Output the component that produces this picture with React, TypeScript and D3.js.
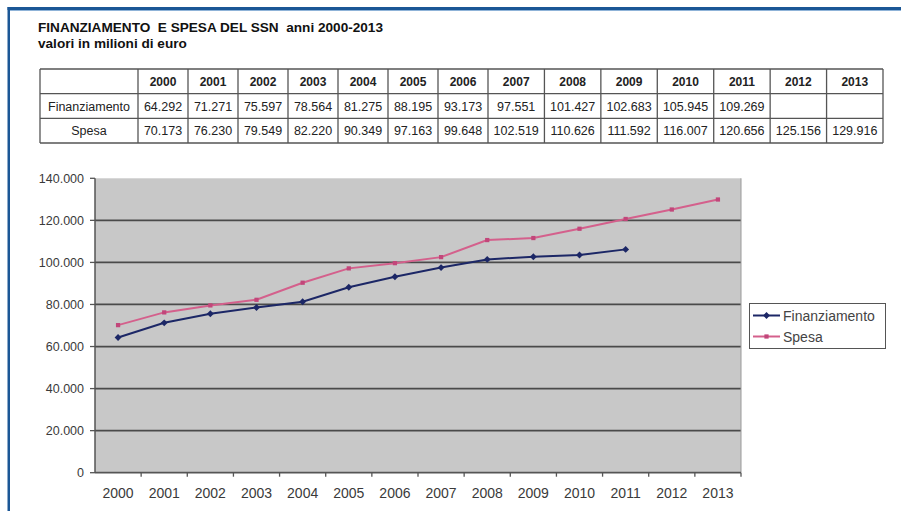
import React from "react";
import * as d3 from "d3";

// ---- data ----
const years = ["2000","2001","2002","2003","2004","2005","2006","2007","2008","2009","2010","2011","2012","2013"];
const finanziamentoTable = ["64.292","71.271","75.597","78.564","81.275","88.195","93.173","97.551","101.427","102.683","105.945","109.269","",""];
const spesaTable = ["70.173","76.230","79.549","82.220","90.349","97.163","99.648","102.519","110.626","111.592","116.007","120.656","125.156","129.916"];
// values as plotted in the chart (millions of euro)
const finanziamentoChart = [64292, 71271, 75597, 78564, 81275, 88195, 93173, 97551, 101427, 102683, 103500, 106200];
const spesaChart = [70173, 76230, 79549, 82220, 90349, 97163, 99648, 102519, 110626, 111592, 116007, 120656, 125156, 129916];
const yTicks = [0, 20000, 40000, 60000, 80000, 100000, 120000, 140000];
const seriesNames = ["Finanziamento", "Spesa"];

const W = 901, H = 511;
const FONT = "Arial, 'Liberation Sans', sans-serif";
const C_FIN = "#1c2766";
const C_SPE = "#d4608c";

const locale = d3.formatLocale({ decimal: ",", thousands: ".", grouping: [3], currency: ["€", ""] });
const fmt = locale.format(",.0f");

export default function App() {
  const x = d3.scaleBand<string>().domain(years).range([95, 741]).padding(0);
  const y = d3.scaleLinear().domain([0, 140000]).range([472.7, 178.3]);
  const cx = (i: number) => (x(years[i]) as number) + x.bandwidth() / 2;

  const finLine = d3.line<number>().x((_, i) => cx(i)).y((d) => y(d));
  const speLine = d3.line<number>().x((_, i) => cx(i)).y((d) => y(d));

  // table column scale: index -> x edge
  const col = d3.scaleLinear().domain([0, 7, 14]).range([138, 488, 883]);
  const rowEdges = d3.scaleLinear().domain([0, 3]).range([69, 143]);
  const tableLeft = 40;

  const diamond = d3.symbol().type(d3.symbolDiamond2 || d3.symbolDiamond).size(30)() as string;
  const square = d3.symbol().type(d3.symbolSquare).size(18)() as string;

  const rows = [
    { label: "", cells: years, bold: true },
    { label: "Finanziamento", cells: finanziamentoTable, bold: false },
    { label: "Spesa", cells: spesaTable, bold: false },
  ];

  return (
    <svg width={W} height={H} style={{ position: "absolute", left: 0, top: 0, background: "#fff" }} fontFamily={FONT}>
      <rect x={0} y={0} width={W} height={H} fill="#fff" />
      {/* blue frame */}
      <rect x={7.5} y={7} width={W} height={3} fill="#1b5796" />
      <rect x={7.5} y={7} width={2.5} height={H} fill="#1b5796" />
      <rect x={10} y={10} width={W} height={1} fill="#8fb3d8" />

      {/* title */}
      <text x={38} y={32} fontSize={13.6} fontWeight="bold" fill="#111" style={{ whiteSpace: "pre" }}>FINANZIAMENTO  E SPESA DEL SSN  anni 2000-2013</text>
      <text x={38} y={47.5} fontSize={13.6} fontWeight="bold" fill="#111">valori in milioni di euro</text>

      {/* table */}
      <g>
        {rows.map((r, ri) => {
          const y0 = rowEdges(ri), y1 = rowEdges(ri + 1);
          const ym = (y0 + y1) / 2 + 4.5;
          return (
            <g key={ri}>
              <text x={(tableLeft + col(0)) / 2} y={ym} fontSize={12.5} textAnchor="middle" fill="#222">{r.label}</text>
              {r.cells.map((c, ci) => (
                <text key={ci} x={(col(ci) + col(ci + 1)) / 2} y={ym} fontSize={r.bold ? 12 : 12.5} textAnchor="middle" fontWeight={r.bold ? "bold" : "normal"} fill="#222">{c}</text>
              ))}
            </g>
          );
        })}
        {d3.range(4).map((i) => (
          <line key={"h" + i} x1={tableLeft} x2={col(14)} y1={rowEdges(i)} y2={rowEdges(i)} stroke="#555" strokeWidth={1.3} />
        ))}
        <line x1={tableLeft} x2={tableLeft} y1={rowEdges(0)} y2={rowEdges(3)} stroke="#555" strokeWidth={1.3} />
        {d3.range(15).map((i) => (
          <line key={"v" + i} x1={col(i)} x2={col(i)} y1={rowEdges(0)} y2={rowEdges(3)} stroke="#555" strokeWidth={1.3} />
        ))}
      </g>

      {/* plot area */}
      <rect x={95} y={y(140000)} width={741 - 95} height={y(0) - y(140000)} fill="#c8c8c8" />
      {yTicks.filter((t) => t > 0 && t < 140000).map((t) => (
        <line key={t} x1={95} x2={741} y1={y(t)} y2={y(t)} stroke="#4a4a4a" strokeWidth={1.8} />
      ))}
      <line x1={741} x2={741} y1={y(140000)} y2={y(0)} stroke="#9a9a9a" strokeWidth={1} />
      {/* axes */}
      <line x1={95} x2={95} y1={y(140000)} y2={y(0)} stroke="#555" strokeWidth={1.5} />
      <line x1={95} x2={741} y1={y(0)} y2={y(0)} stroke="#555" strokeWidth={1.8} />
      {yTicks.map((t) => (
        <g key={t}>
          <line x1={90} x2={95} y1={y(t)} y2={y(t)} stroke="#555" strokeWidth={1.3} />
          <text x={84} y={y(t) + 4.5} fontSize={12.5} textAnchor="end" fill="#3a3a3a">{fmt(t)}</text>
        </g>
      ))}
      {years.map((yr, i) => (
        <g key={yr}>
          <line x1={(x(yr) as number) + x.bandwidth()} x2={(x(yr) as number) + x.bandwidth()} y1={y(0)} y2={y(0) + 4} stroke="#555" strokeWidth={1.3} />
          <text x={cx(i)} y={498} fontSize={14} textAnchor="middle" fill="#3a3a3a">{yr}</text>
        </g>
      ))}

      {/* lines */}
      <path d={speLine(spesaChart) as string} fill="none" stroke={C_SPE} strokeWidth={2} />
      {spesaChart.map((v, i) => (
        <path key={i} d={square} transform={`translate(${cx(i)},${y(v)})`} fill="#c2467a" />
      ))}
      <path d={finLine(finanziamentoChart) as string} fill="none" stroke={C_FIN} strokeWidth={2} />
      {finanziamentoChart.map((v, i) => (
        <path key={i} d={diamond} transform={`translate(${cx(i)},${y(v)})`} fill={C_FIN} />
      ))}

      {/* legend */}
      <rect x={749.5} y={303.5} width={136} height={45} fill="#fff" stroke="#555" strokeWidth={1} />
      {seriesNames.map((n, i) => {
        const ly = 315.5 + i * 21;
        const c = i === 0 ? C_FIN : C_SPE;
        return (
          <g key={n}>
            <line x1={753} x2={780} y1={ly} y2={ly} stroke={c} strokeWidth={2} />
            <path d={i === 0 ? diamond : square} transform={`translate(766.5,${ly})`} fill={i === 0 ? C_FIN : "#c2467a"} />
            <text x={783} y={ly + 5} fontSize={14} fill="#444">{n}</text>
          </g>
        );
      })}
    </svg>
  );
}
